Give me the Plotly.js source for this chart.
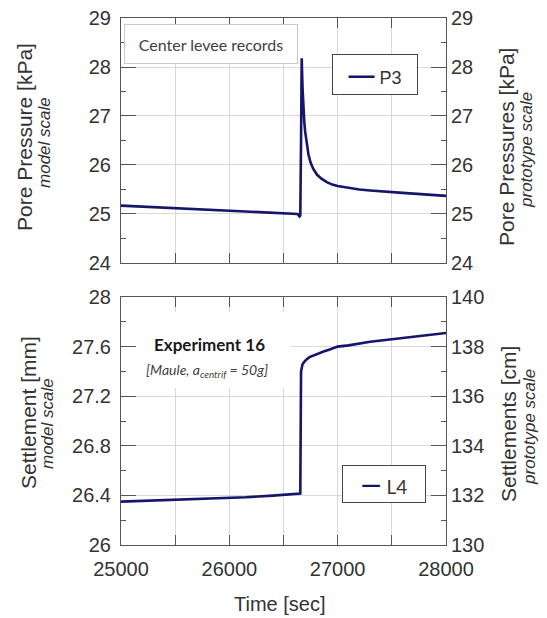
<!DOCTYPE html>
<html>
<head>
<meta charset="utf-8">
<script src="https://cdn.plot.ly/plotly-3.0.1.min.js"></script>
<style>html,body{margin:0;padding:0;background:#fff;}#chart{width:547px;height:618px;}</style>
</head>
<body>
<div id="chart"></div>
<script>
// Pore pressure record P3 (time in sec, pressure in kPa)
const timeP3 = [25000, 25500, 26000, 26400, 26630, 26648, 26655, 26662, 26668, 26672, 26676, 26680, 26685, 26692, 26700, 26712, 26730, 26750, 26775, 26810, 26850, 26900, 26950, 27000, 27050, 27125, 27200, 27300, 27400, 27600, 27800, 28000];
const poreP3 = [25.17, 25.12, 25.07, 25.03, 25.00, 24.95, 24.97, 26.5, 28.18, 27.85, 27.55, 27.30, 27.10, 26.88, 26.68, 26.45, 26.22, 26.05, 25.92, 25.80, 25.72, 25.65, 25.60, 25.57, 25.55, 25.52, 25.50, 25.48, 25.46, 25.43, 25.40, 25.37];

// Settlement record L4 (time in sec, settlement in mm, model scale)
const timeL4 = [25000, 25500, 26000, 26150, 26400, 26655, 26662, 26666, 26675, 26690, 26710, 26740, 26780, 26820, 26870, 26920, 26970, 27000, 27100, 27200, 27300, 27500, 27700, 27900, 28000];
const settleL4 = [26.35, 26.363, 26.377, 26.385, 26.398, 26.415, 27.40, 27.43, 27.455, 27.475, 27.495, 27.515, 27.53, 27.545, 27.56, 27.575, 27.59, 27.60, 27.61, 27.625, 27.64, 27.66, 27.68, 27.70, 27.71];

// Prototype scale factor (N = 50): mm model -> cm prototype
const protoFactor = 5;

// Series names
const seriesTop = 'P3';
const seriesBottom = 'L4';

// Ticks
const xGridVals = [25000, 25500, 26000, 26500, 27000, 27500, 28000];
const xTickVals = [25000, 26000, 27000, 28000];
const xTickText = ['25000', '26000', '27000', '28000'];
const poreMinorTicks = [24.5, 25.5, 26.5, 27.5, 28.5];
const settleMinorTicks = [26.2, 26.6, 27.0, 27.4, 27.8];
const protoMinorTicks = [131, 133, 135, 137, 139];

const lineColor = '#15156b';
const axisColor = '#555555';
const gridColor = '#d9d9d9';
const textColor = '#333333';
function tickFont() { return {family: 'Liberation Sans, Arial, sans-serif', size: 20, color: textColor}; }

const settleProto = settleL4.map(v => v * protoFactor);
function ghost(x, y, xa, ya) {
  return {x: x, y: y, xaxis: xa, yaxis: ya, type: 'scatter', mode: 'lines',
    line: {color: 'rgba(0,0,0,0)', width: 0}, showlegend: false};
}

const traces = [
  {x: timeP3, y: poreP3, xaxis: 'x', yaxis: 'y', type: 'scatter', mode: 'lines', name: seriesTop,
   line: {color: lineColor, width: 2.6}, showlegend: false},
  ghost(timeP3, poreP3, 'x', 'y2'),
  ghost(timeP3, poreP3, 'x', 'y5'),
  ghost(timeP3, poreP3, 'x', 'y6'),
  ghost(timeP3, poreP3, 'x', 'y9'),
  ghost(timeP3, poreP3, 'x', 'y10'),
  {x: timeL4, y: settleL4, xaxis: 'x2', yaxis: 'y3', type: 'scatter', mode: 'lines', name: seriesBottom,
   line: {color: lineColor, width: 2.6}, showlegend: false},
  ghost(timeL4, settleProto, 'x2', 'y4'),
  ghost(timeL4, settleL4, 'x2', 'y7'),
  ghost(timeL4, settleProto, 'x2', 'y8'),
  ghost(timeL4, settleL4, 'x2', 'y11'),
  ghost(timeL4, settleProto, 'x2', 'y12'),
  ghost(timeL4, settleL4, 'x3', 'y3')
];

const xDom = [0.0295, 0.9882];
const topDom = [0.5438, 1];
const botDom = [0.0186, 0.4804];

function xFrame(anchor) {
  return {
    anchor: anchor, domain: xDom, range: [25000, 28000], tickmode: 'array', tickvals: xGridVals,
    showticklabels: false, ticks: 'inside', ticklen: 10, tickcolor: axisColor, tickwidth: 1,
    showline: true, linecolor: axisColor, linewidth: 1, mirror: 'ticks',
    showgrid: true, gridcolor: gridColor, gridwidth: 1, zeroline: false
  };
}
function yFrame(range, dtick, domain, anchor, extra) {
  return Object.assign({
    range: range, domain: domain, anchor: anchor, tickmode: 'linear', dtick: dtick, tick0: range[0],
    showticklabels: false, ticks: 'inside', ticklen: 15, tickcolor: axisColor, tickwidth: 1,
    showline: true, linecolor: axisColor, linewidth: 1, zeroline: false,
    showgrid: true, gridcolor: gridColor, gridwidth: 1
  }, extra || {});
}
function yMinor(range, vals, domain, anchor, over, side) {
  return {range: range, domain: domain, anchor: anchor, overlaying: over, side: side,
    tickmode: 'array', tickvals: vals, ticks: 'inside', ticklen: 5, tickcolor: axisColor, tickwidth: 1,
    showticklabels: false, showline: false, showgrid: false, zeroline: false};
}
function yLabels(range, dtick, domain, over, side, pos) {
  return {range: range, domain: domain, anchor: 'free', position: pos, overlaying: over, side: side,
    tickmode: 'linear', dtick: dtick, tick0: range[0], ticks: '', showticklabels: true,
    showline: false, showgrid: false, zeroline: false, tickfont: tickFont()};
}

function rotTitle(text, x, y, size, italic) {
  return {xref: 'paper', yref: 'paper', x: x, y: y, text: italic ? '<i>' + text + '</i>' : text,
    textangle: -90, showarrow: false, xanchor: 'center', yanchor: 'middle',
    font: {family: 'Liberation Sans, Arial, sans-serif', size: size, color: textColor}};
}
function legendBox(name, x, y, w, h, family, size) {
  return {xref: 'paper', yref: 'paper', x: x, y: y, showarrow: false, xanchor: 'center', yanchor: 'middle',
    text: '<span style="color:' + lineColor + ';font-size:26px"><b>\u2014</b></span>\u00a0' + name,
    width: w, height: h, bgcolor: '#ffffff', bordercolor: '#444444', borderwidth: 1,
    font: {family: family, size: size, color: textColor}};
}

const layout = {
  width: 547, height: 618,
  margin: {l: 111, r: 97, t: 18, b: 63, autoexpand: false},
  showlegend: false,
  xaxis: xFrame('y'),
  xaxis2: xFrame('y3'),
  xaxis3: {domain: xDom, range: [25000, 28000], anchor: 'free', position: 0, overlaying: 'x2', side: 'bottom',
    tickmode: 'array', tickvals: xTickVals, ticktext: xTickText, ticks: '', showticklabels: true,
    showline: false, showgrid: false, zeroline: false, tickfont: tickFont()},
  yaxis: yFrame([24, 29], 1, topDom, 'x'),
  yaxis2: yFrame([24, 29], 1, topDom, 'x', {overlaying: 'y', side: 'right', showgrid: false}),
  yaxis3: yFrame([26, 28], 0.4, botDom, 'x2'),
  yaxis4: yFrame([130, 140], 2, botDom, 'x2', {overlaying: 'y3', side: 'right', showgrid: false}),
  yaxis5: yMinor([24, 29], poreMinorTicks, topDom, 'x', 'y', 'left'),
  yaxis6: yMinor([24, 29], poreMinorTicks, topDom, 'x', 'y', 'right'),
  yaxis7: yMinor([26, 28], settleMinorTicks, botDom, 'x2', 'y3', 'left'),
  yaxis8: yMinor([130, 140], protoMinorTicks, botDom, 'x2', 'y3', 'right'),
  yaxis9: yLabels([24, 29], 1, topDom, 'y', 'left', 0),
  yaxis10: yLabels([24, 29], 1, topDom, 'y', 'right', 1),
  yaxis11: yLabels([26, 28], 0.4, botDom, 'y3', 'left', 0),
  yaxis12: yLabels([130, 140], 2, botDom, 'y3', 'right', 1),
  annotations: [
    rotTitle('Pore Pressure [kPa]', -0.2537, 0.7784, 21, false),
    rotTitle('model scale', -0.1947, 0.7691, 17, true),
    rotTitle('Pore Pressures [kPa]', 1.1681, 0.7598, 21, false),
    rotTitle('prototype scale', 1.2271, 0.7542, 17, true),
    rotTitle('Settlement [mm]', -0.2448, 0.2644, 21, false),
    rotTitle('model scale', -0.1888, 0.2458, 17, true),
    rotTitle('Settlements [cm]', 1.1711, 0.2439, 21, false),
    rotTitle('prototype scale', 1.2360, 0.2384, 17, true),
    {xref: 'paper', yref: 'paper', x: 0.4985, y: -0.0912, text: 'Time [sec]', showarrow: false,
     xanchor: 'center', yanchor: 'middle', font: {family: 'Liberation Sans, Arial, sans-serif', size: 20, color: textColor}},
    {xref: 'paper', yref: 'paper', x: 0.2950, y: 0.9516, text: 'Center levee records', showarrow: false,
     xanchor: 'center', yanchor: 'middle', width: 170, height: 36, bgcolor: '#ffffff',
     bordercolor: '#c8c8c8', borderwidth: 1, font: {family: 'Lato, sans-serif', size: 16, color: '#404040'}},
    {xref: 'paper', yref: 'paper', x: 0.3024, y: 0.3818, text: '&nbsp;', showarrow: false,
     xanchor: 'center', yanchor: 'middle', width: 153, height: 74, bgcolor: '#ffffff', borderwidth: 0,
     font: {size: 10, color: '#ffffff'}},
    {xref: 'paper', yref: 'paper', x: 0.2891, y: 0.3911, text: '<b>Experiment 16</b>', showarrow: false,
     xanchor: 'center', yanchor: 'middle', font: {family: 'Lato, sans-serif', size: 17, color: '#1a1a1a'}},
    {xref: 'paper', yref: 'paper', x: 0.2832, y: 0.3445, text: '<i>[Maule, a<sub>centrif</sub> = 50g]</i>', showarrow: false,
     xanchor: 'center', yanchor: 'middle', font: {family: 'Lato, sans-serif', size: 14, color: '#404040'}},
    legendBox(seriesTop, 0.7788, 0.8948, 82, 37, 'Liberation Sans, Arial, sans-serif', 18),
    legendBox(seriesBottom, 0.8053, 0.1313, 80, 34, 'Lato, sans-serif', 19)
  ]
};

Plotly.newPlot('chart', traces, layout, {displayModeBar: false});
</script>
</body>
</html>
